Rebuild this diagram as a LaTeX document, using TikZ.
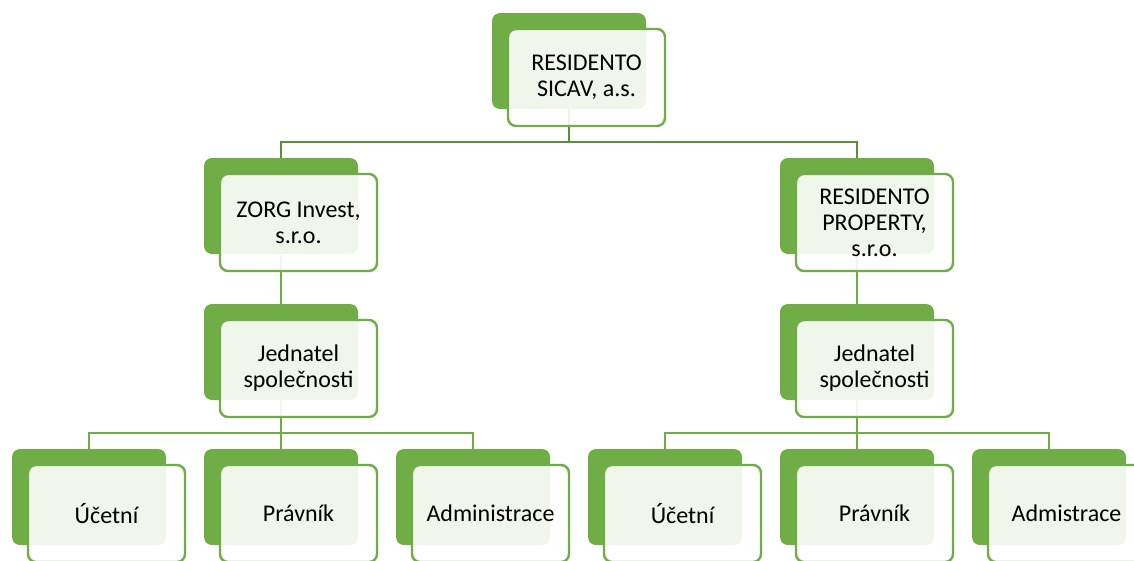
\documentclass[tikz,border=0pt]{standalone}
\usepackage{fontspec}
\setmainfont{Carlito}
\definecolor{grn}{RGB}{112,173,71}
\definecolor{dgrn}{RGB}{88,146,56}
\tikzset{
  backbox/.style={draw=none, fill=grn, rounded corners=8pt, minimum width=154pt, minimum height=96pt, inner sep=0pt},
  frontbox/.style={draw=grn, line width=2.4pt, fill=white, fill opacity=0.9, text opacity=1, rounded corners=8pt, minimum width=157pt, minimum height=97pt, inner sep=0pt, align=center, font=\fontsize{24pt}{26pt}\selectfont},
  conn/.style={draw=grn, line width=2.4pt},
  topconn/.style={draw=dgrn, line width=2.4pt}
}
\newcommand{\orgbox}[4]{%
  \node[backbox] (#1B) at (#2,#3) {};
  \node[frontbox] (#1) at (#2+17.5,#3+16.5) {#4};
}
\begin{document}
\begin{tikzpicture}[x=1pt,y=-1pt]
\clip (0,0) rectangle (1134,560);
\fill[white] (0,0) rectangle (1134,560);
% bus coordinates
\coordinate (bt) at (569,142);
\coordinate (bl) at (281,433);
\coordinate (br) at (857,433);
% connectors (drawn first)
\draw[topconn] (569,109) -- (bt);
\draw[topconn] (281,158) |- (bt) -| (857,158);
\draw[conn] (281,255) -- (281,304);
\draw[conn] (857,255) -- (857,304);
\draw[conn] (281,400) -- (bl);
\draw[conn] (857,400) -- (br);
\draw[conn] (89,449) |- (bl) -| (473,449);
\draw[conn] (281,433) -- (281,449);
\draw[conn] (665,449) |- (br) -| (1049,449);
\draw[conn] (857,433) -- (857,449);
% boxes
\orgbox{top}{569}{61}{RESIDENTO\\SICAV, a.s.}
\orgbox{zorg}{281}{206}{ZORG Invest,\\s.r.o.}
\orgbox{prop}{857}{206}{RESIDENTO\\PROPERTY,\\s.r.o.}
\orgbox{jl}{281}{352}{Jednatel\\společnosti}
\orgbox{jr}{857}{352}{Jednatel\\společnosti}
\orgbox{ul}{89}{497}{Účetní}
\orgbox{pl}{281}{497}{Právník}
\orgbox{al}{473}{497}{Administrace}
\orgbox{ur}{665}{497}{Účetní}
\orgbox{pr}{857}{497}{Právník}
\orgbox{ar}{1049}{497}{Admistrace}
\end{tikzpicture}
\end{document}
